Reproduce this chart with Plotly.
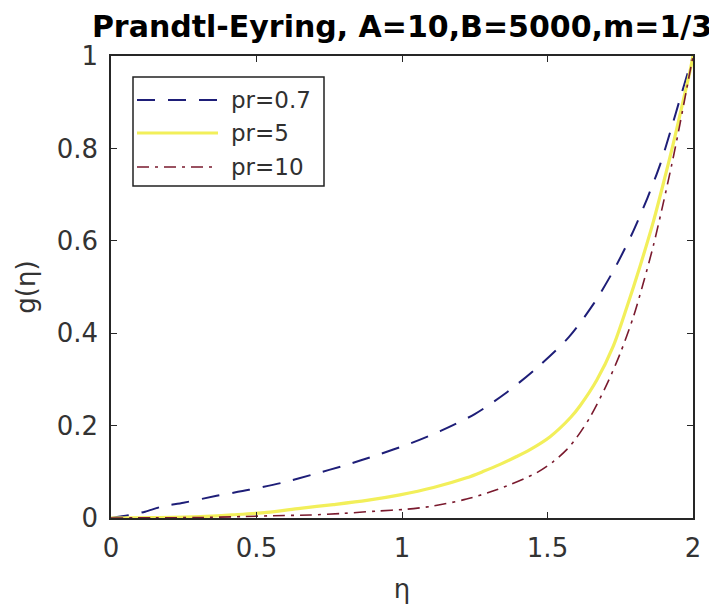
import plotly.graph_objects as go

# ---- data ----
eta_07 = [0.0, 0.06, 0.117, 0.174, 0.249, 0.363, 0.474, 0.586, 0.695, 0.804, 0.913, 1.027, 1.131,
          1.25, 1.356, 1.465, 1.574, 1.66, 1.728, 1.789, 1.843, 1.887, 1.923, 1.958, 1.99, 2.0]
g_07 = [0.0, 0.006, 0.0137, 0.0245, 0.033, 0.048, 0.061, 0.076, 0.0945, 0.114, 0.136, 0.161, 0.188,
        0.225, 0.27, 0.326, 0.392, 0.465, 0.537, 0.613, 0.692, 0.765, 0.838, 0.913, 0.98, 1.0]

eta_5 = [0.0, 0.15, 0.306, 0.42, 0.535, 0.65, 0.764, 0.879, 0.993, 1.108, 1.222, 1.28, 1.337, 1.394,
         1.44, 1.509, 1.58, 1.612, 1.669, 1.726, 1.772, 1.818, 1.864, 1.898, 1.932, 1.967, 1.99, 2.0]
g_5 = [0.0, 0.001, 0.003, 0.007, 0.012, 0.021, 0.029, 0.038, 0.050, 0.066, 0.087, 0.101, 0.116, 0.133,
       0.148, 0.176, 0.218, 0.243, 0.298, 0.372, 0.455, 0.545, 0.642, 0.724, 0.81, 0.905, 0.968, 1.0]

eta_10 = [0.0, 0.15, 0.3, 0.45, 0.557, 0.684, 0.798, 0.913, 1.016, 1.108, 1.222, 1.325, 1.463, 1.52,
          1.566, 1.6, 1.646, 1.703, 1.749, 1.795, 1.829, 1.864, 1.898, 1.927, 1.955, 1.978, 2.0]
g_10 = [0.0, 0.0005, 0.001, 0.003, 0.005, 0.0065, 0.010, 0.015, 0.019, 0.026, 0.041, 0.061, 0.098, 0.122,
        0.148, 0.174, 0.218, 0.288, 0.355, 0.435, 0.508, 0.59, 0.682, 0.765, 0.852, 0.928, 1.0]

series_names = ["pr=0.7", "pr=5", "pr=10"]
series_colors = ["#1e1e78", "#f2ef5a", "#7a1a2e"]
series_dash = ["18px,13px", "solid", "12px,6px,3px,6px"]
series_width = [2, 3.2, 1.6]

x_ticks = [0, 0.5, 1, 1.5, 2]
x_ticktext = ["0", "0.5", "1", "1.5", "2"]
y_ticks = [0, 0.2, 0.4, 0.6, 0.8, 1]
y_ticktext = ["0", "0.2", "0.4", "0.6", "0.8", "1"]

title_text = "Prandtl-Eyring, A=10,B=5000,m=1/3"
x_title = "η"
y_title = "g(η)"

xs = [eta_07, eta_5, eta_10]
ys = [g_07, g_5, g_10]

fig = go.Figure()
for i in range(3):
    fig.add_trace(go.Scatter(
        x=xs[i], y=ys[i], mode="lines", name=series_names[i],
        line=dict(color=series_colors[i], width=series_width[i], dash=series_dash[i],
                  shape="spline", smoothing=0.8),
        showlegend=False,
    ))

# page body has an 8px margin: compensate so the plot lands where the reference has it
OFF = 8
W, H = 717, 612
L, T = 111 - OFF, 56 - OFF
PW, PH = 582, 462
R = W - L - PW
B = H - T - PH

def fx(px):
    return (px - OFF - L) / PW

def fy(py):
    return (T + PH - (py - OFF)) / PH

# custom legend (MATLAB style: long line samples)
shapes = [dict(type="rect", xref="paper", yref="paper",
               x0=fx(133), x1=fx(324), y0=fy(186), y1=fy(77),
               line=dict(color="#222222", width=1.5), fillcolor="white", layer="above")]
annotations = []
row_y = [100, 133, 167]
for i in range(3):
    shapes.append(dict(type="line", xref="paper", yref="paper",
                       x0=fx(137), x1=fx(218), y0=fy(row_y[i]), y1=fy(row_y[i]),
                       line=dict(color=series_colors[i], width=series_width[i], dash=series_dash[i]),
                       layer="above"))
    annotations.append(dict(text=series_names[i], xref="paper", yref="paper",
                            x=fx(229), y=fy(row_y[i]), xanchor="left", yanchor="middle",
                            showarrow=False, font=dict(family="DejaVu Sans", size=23, color="#303030")))

axis_common = dict(showgrid=False, zeroline=False, showline=True, linecolor="#262626", linewidth=1.5,
                   mirror="ticks", ticks="inside", ticklen=6, tickcolor="#262626", tickwidth=1,
                   tickfont=dict(family="DejaVu Sans", size=26, color="#333333"))

fig.update_layout(
    width=W, height=H,
    margin=dict(l=L, r=R, t=T, b=B, pad=0),
    paper_bgcolor="white", plot_bgcolor="white",
    title=dict(text="<b>" + title_text + "</b>", x=0.5, xref="paper", y=1 - (26 - OFF) / H, yref="container",
               xanchor="center", yanchor="middle",
               font=dict(family="DejaVu Sans", size=30, color="black")),
    xaxis=dict(range=[0, 2], tickvals=x_ticks, ticktext=x_ticktext, ticklabelstandoff=6,
               title=dict(text=x_title, font=dict(family="DejaVu Sans", size=26, color="#333333"), standoff=18),
               **axis_common),
    yaxis=dict(range=[0, 1], tickvals=y_ticks, ticktext=y_ticktext, ticklabelstandoff=6,
               title=dict(text=y_title, font=dict(family="DejaVu Sans", size=26, color="#333333"), standoff=14),
               **axis_common),
    shapes=shapes, annotations=annotations,
    showlegend=False,
)

fig.write_html("out.html")
